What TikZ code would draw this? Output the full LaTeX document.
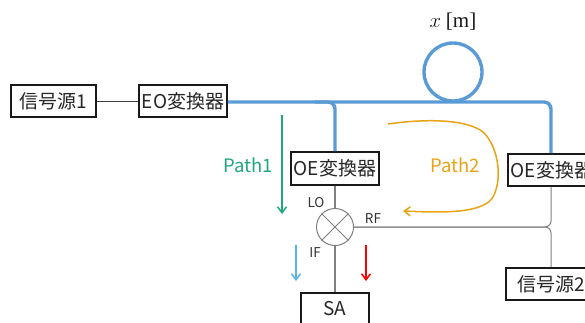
\documentclass[tikz,border=0pt]{standalone}
\usepackage{fontspec}
\setmainfont{Noto Sans CJK JP}
\newfontfamily\unitfont{Liberation Serif}
\usetikzlibrary{arrows.meta}
\definecolor{fiber}{HTML}{5B9BD5}
\definecolor{pathgreen}{HTML}{1FA87F}
\definecolor{pathorange}{HTML}{E8A317}
\definecolor{ifblue}{HTML}{56B4E9}
\definecolor{wire}{HTML}{808080}
\tikzset{
  x=1pt,y=1pt,
  box/.style={draw=black!90,line width=1.9pt,fill=white,inner sep=0pt,minimum height=32pt,font=\fontsize{19}{21}\selectfont,text=black!85},
  fiberline/.style={draw=fiber,line width=3.4pt,rounded corners=7pt},
  wireline/.style={draw=wire,line width=1pt,rounded corners=6pt},
  small/.style={font=\fontsize{13.5}{15}\selectfont,text=black!80,inner sep=0pt},
  patharrow/.style={line width=1.5pt,-{Straight Barb[length=6pt,width=9pt]}},
  pathlabel/.style={font=\fontsize{18.5}{20}\selectfont,inner sep=0pt},
}
\begin{document}
\begin{tikzpicture}
\useasboundingbox (0,0) rectangle (585,-322);
\clip (0,0) rectangle (585,-322);
% anchors
\coordinate (loop) at (453,-72);
\coordinate (corner) at (551,-102);
\coordinate (branchin) at (315,-102);
\coordinate (branch) at (335,-102);
\coordinate (rfj) at (551,-227);
\coordinate (g1a) at (282,-115);
\coordinate (g1b) at (282,-214);
\coordinate (b1a) at (296,-245);
\coordinate (b1b) at (296,-281);
\coordinate (r1a) at (366,-245);
\coordinate (r1b) at (366,-281);
\coordinate (p2a) at (388,-124);
\coordinate (p2b) at (403,-211);
% nodes
\node[box,minimum width=85pt] (s1) at (53.5,-101) {信号源1};
\node[box,minimum width=88pt] (eo) at (183,-101) {EO変換器};
\node[box,minimum width=88pt,minimum height=33pt] (oe1) at (335,-168.5) {OE変換器};
\node[box,minimum width=88pt,minimum height=32pt,anchor=west] (oe2) at (507,-170) {OE変換器};
\node[box,minimum width=90pt,minimum height=32pt,anchor=west] (s2) at (505,-284) {信号源2};
\node[box,minimum width=68pt,minimum height=32pt,anchor=north] (sa) at (335,-292) {SA};
\node[draw=wire,line width=1pt,circle,minimum size=37pt,inner sep=0pt,fill=white] (mx) at (335,-227) {};
% wires
\draw[draw=black!75,line width=1pt] (s1) -- (eo);
\draw[draw=wire,line width=1.2pt] (oe1) -- (mx);
\draw[draw=wire,line width=1.2pt] (mx) -- (sa);
\draw[draw=wire,line width=1pt] (mx.45) -- (mx.225) (mx.135) -- (mx.315);
\draw[wireline] (mx) -- (rfj) -- (rfj |- oe2.south);
\draw[wireline] (mx) -- (rfj) -- (rfj |- s2.north);
% fiber
\draw[draw=fiber,line width=3.4pt] (loop) circle (29);
\draw[fiberline] (eo.east |- corner) -- (corner) -- (corner |- oe2.north);
\draw[fiberline] (branchin) -- (branch) -- (oe1.north);
% path arrows
\draw[patharrow,pathgreen] (g1a) -- (g1b);
\draw[patharrow,ifblue] (b1a) -- (b1b);
\draw[patharrow,red] (r1a) -- (r1b);
\draw[patharrow,pathorange] (p2a) .. controls (430,-118) and (468,-120) .. (483,-132) .. controls (497,-145) and (503,-175) .. (494,-195) .. controls (486,-216) and (430,-212) .. (p2b);
% labels
\node[pathlabel,text=pathgreen] (p1) at (248,-165) {Path1};
\node[pathlabel,text=pathorange] (p2) at (455,-165) {Path2};
\node[small] (lo) at (316,-203) {LO};
\node[small] (rf) at (373,-219) {RF};
\node[small] (if) at (315,-253) {IF};
\node[inner sep=0pt,font=\fontsize{21}{23}\selectfont,text=black!90] (xm) at (453,-22) {$x$ {\unitfont [m]}};
\end{tikzpicture}
\end{document}
